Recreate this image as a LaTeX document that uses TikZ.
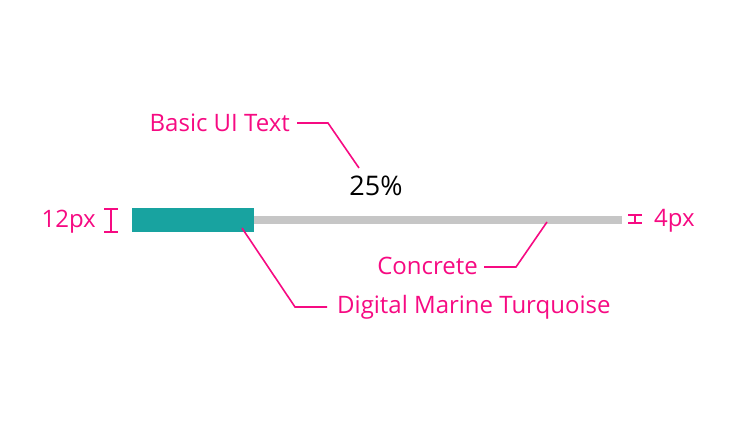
\documentclass[tikz,border=0pt]{standalone}
\usepackage{fontspec}
\setmainfont{Open Sans}
\definecolor{pinkc}{RGB}{246,10,130}
\definecolor{tealc}{RGB}{24,163,160}
\definecolor{grayc}{RGB}{198,198,198}
\begin{document}
\begin{tikzpicture}[x=1pt,y=-1pt,
  lbl/.style={text=pinkc,font=\fontsize{24}{28}\selectfont,inner sep=0pt},
  lead/.style={draw=pinkc,line width=1.6pt},
  dim/.style={draw=pinkc,line width=2pt}]
\useasboundingbox (0,0) rectangle (740,422);
% bars
\fill[grayc] (254,216) rectangle (622,224);
\fill[tealc] (132,208) rectangle (254,232);
% nodes
\node[lbl,anchor=east] (basic) at (290,123) {Basic UI Text};
\node[inner sep=0pt,font=\fontsize{27}{30}\selectfont,anchor=center] (pct) at (376,186) {25\%};
\node[lbl,anchor=east] (px12) at (96,222) {12px};
\node[lbl,anchor=west] (px4) at (654,221) {4px};
\node[lbl,anchor=west] (dmt) at (337,307) {Digital Marine Turquoise};
\node[lbl,anchor=east] (conc) at (478,266) {Concrete};
% leader coordinates
\coordinate (b1) at (297,123);
\coordinate (b2) at (328,123);
\coordinate (b3) at (359,168);
\coordinate (d1) at (242,228);
\coordinate (d2) at (295,307);
\coordinate (d3) at (327,307);
\coordinate (c1) at (547,222);
\coordinate (c2) at (516,267);
\coordinate (c3) at (484,267);
\draw[lead] (b1) -- (b2) -- (b3);
\draw[lead] (d1) -- (d2) -- (d3);
\draw[lead] (c1) -- (c2) -- (c3);
% dimension marks
\coordinate (t12) at (111,209);
\coordinate (u12) at (111,232);
\draw[dim] (t12) -- (u12);
\draw[dim] ([xshift=-7]t12) -- ([xshift=7]t12);
\draw[dim] ([xshift=-7]u12) -- ([xshift=7]u12);
\coordinate (t4) at (635,215);
\coordinate (u4) at (635,223);
\draw[dim] (t4) -- (u4);
\draw[dim] ([xshift=-7]t4) -- ([xshift=7]t4);
\draw[dim] ([xshift=-7]u4) -- ([xshift=7]u4);
\end{tikzpicture}
\end{document}
